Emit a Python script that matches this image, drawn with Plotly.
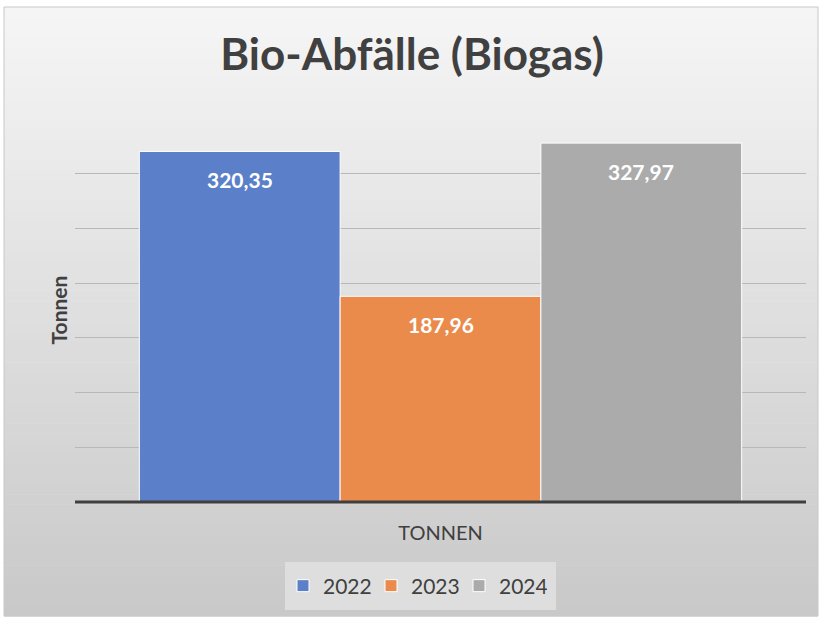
import plotly.graph_objects as go

categories = ["TONNEN"]
years = ["2022", "2023", "2024"]
values = [320.35, 187.96, 327.97]
colors = ["#5b7fc8", "#eb8b4b", "#ababab"]

W, H = 824, 621
ML, MR, MT, MB = 75, 18, 119, 119
PW, PH = W - ML - MR, H - MT - MB
BARGAP = 0.176
BARPX = PW * (1 - BARGAP) / len(years)

def px_x(p):
    return (p - ML) / PW

def px_y(p):
    return (H - MB - p) / PH

fig = go.Figure()
for yr, v, c in zip(years, values, colors):
    fig.add_trace(go.Bar(
        x=categories, y=[v], name=yr,
        marker=dict(color=c, line=dict(color="white", width=1)),
        hoverinfo="skip",
    ))

annotations = []
for i, v in enumerate(values):
    annotations.append(dict(
        x=categories[0], y=v, xref="x", yref="y", showarrow=False,
        text="<b>%s</b>" % ("%.2f" % v).replace(".", ","),
        yanchor="top", yshift=-14, xshift=(i - (len(values) - 1) / 2) * BARPX,
        font=dict(family="Lato", size=21, color="white")))
annotations.append(dict(text="<b>Tonnen</b>", xref="paper", yref="paper",
                        x=px_x(58), y=0.5, xanchor="center", yanchor="middle",
                        textangle=-90, showarrow=False,
                        font=dict(family="Lato", size=21, color="#404040")))

shapes = []
top, bot = 7, 616
N = 60
c0, c1 = (245, 245, 245), (201, 201, 201)
for i in range(N):
    t = i / (N - 1)
    col = tuple(round(a + (b - a) * t) for a, b in zip(c0, c1))
    y0p = top + (bot - top) * i / N
    y1p = top + (bot - top) * (i + 1) / N
    shapes.append(dict(type="rect", xref="paper", yref="paper", layer="below",
                       x0=px_x(4), x1=px_x(818), y0=px_y(y1p + 0.5), y1=px_y(y0p),
                       fillcolor="rgb(%d,%d,%d)" % col, line=dict(width=0)))
shapes.append(dict(type="rect", xref="paper", yref="paper", layer="below",
                   x0=px_x(4), x1=px_x(818), y0=px_y(bot), y1=px_y(top),
                   fillcolor="rgba(0,0,0,0)", line=dict(color="#c8c8c8", width=1)))
shapes.append(dict(type="rect", xref="paper", yref="paper", layer="below",
                   x0=px_x(285), x1=px_x(556), y0=px_y(610), y1=px_y(562),
                   fillcolor="#dedede", line=dict(width=0)))
shapes.append(dict(type="line", xref="paper", yref="paper", layer="above",
                   x0=0, x1=1, y0=0, y1=0, line=dict(color="#3f3f3f", width=3)))

fig.update_layout(
    width=W, height=H,
    margin=dict(l=ML, r=MR, t=MT, b=MB),
    paper_bgcolor="white", plot_bgcolor="rgba(0,0,0,0)",
    barmode="group", bargap=BARGAP, bargroupgap=0,
    font=dict(family="Lato", color="#404040"),
    title=dict(text="<b>Bio-Abfälle (Biogas)</b>", x=0.5, xanchor="center",
               y=1 - 55 / H, yanchor="middle",
               font=dict(family="Lato", size=44, color="#404040")),
    xaxis=dict(showgrid=False, showline=False, ticks="", ticklabelstandoff=17,
               tickfont=dict(size=20, color="#404040")),
    yaxis=dict(range=[0, 350], dtick=50, showticklabels=False, showgrid=True,
               gridcolor="#b8b8b8", gridwidth=1, zeroline=False, showline=False),
    showlegend=True,
    legend=dict(orientation="h", x=px_x(415), xanchor="center",
                y=px_y(586), yanchor="middle", bgcolor="rgba(0,0,0,0)",
                font=dict(size=21, color="#404040"), itemwidth=30,
                entrywidth=43, traceorder="normal"),
    shapes=shapes,
    annotations=annotations,
)

fig.write_html("out.html", config={"displayModeBar": False},
               post_script="document.body.style.margin='0';")
